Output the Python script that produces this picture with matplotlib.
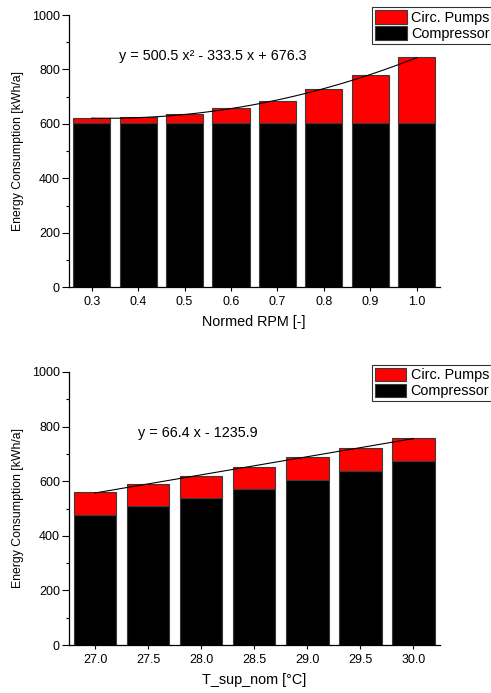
import numpy as np
import matplotlib
matplotlib.use("Agg")
import matplotlib.pyplot as plt
from matplotlib.ticker import MultipleLocator
from matplotlib.patches import Patch

plt.rcParams['font.family'] = ['Liberation Sans', 'DejaVu Sans']

# ---- data: top chart ----
rpm = [0.3, 0.4, 0.5, 0.6, 0.7, 0.8, 0.9, 1.0]
rpm_labels = ["0.3", "0.4", "0.5", "0.6", "0.7", "0.8", "0.9", "1.0"]
rpm_compressor = [602, 602, 602, 602, 602, 602, 602, 602]
rpm_total = [620, 624, 637, 657, 686, 727, 780, 847]
rpm_fit_coef = [500.5, -333.5, 676.3]  # y = a x^2 + b x + c
rpm_fit_text = "y = 500.5 x\u00b2 - 333.5 x + 676.3"

# ---- data: bottom chart ----
tsup = [27.0, 27.5, 28.0, 28.5, 29.0, 29.5, 30.0]
tsup_labels = ["27.0", "27.5", "28.0", "28.5", "29.0", "29.5", "30.0"]
tsup_compressor = [478, 508, 539, 570, 604, 637, 673]
tsup_total = [559, 589, 620, 652, 687, 721, 757]
tsup_fit_coef = [66.4, -1235.9]  # y = a x + b
tsup_fit_text = "y = 66.4 x - 1235.9"

RED = "#ff0000"
BLACK = "#000000"
EDGE = "#3a3a3a"

fig = plt.figure(figsize=(4.91, 6.93), dpi=100)
W, H = 491, 693


def make_ax(left, top, right, bottom):
    return fig.add_axes([left / W, 1 - bottom / H, (right - left) / W, (bottom - top) / H])


def style(ax, xvals, xlabels, xlim, xlabel):
    ax.set_ylim(0, 1000)
    ax.set_xlim(*xlim)
    ax.yaxis.set_major_locator(MultipleLocator(200))
    ax.yaxis.set_minor_locator(MultipleLocator(100))
    ax.set_xticks(xvals)
    ax.set_xticklabels(xlabels)
    for s in ['top', 'right']:
        ax.spines[s].set_visible(False)
    for s in ['left', 'bottom']:
        ax.spines[s].set_linewidth(0.9)
    ax.tick_params(axis='y', which='major', length=5, width=0.8, labelsize=9, pad=1.2)
    ax.tick_params(axis='y', which='minor', length=2.5, width=0.8)
    ax.tick_params(axis='x', which='major', length=3, width=0.8, labelsize=9, pad=3.5)
    ax.set_xlabel(xlabel, fontsize=10.4, labelpad=5)
    ax.set_ylabel("Energy Consumption [kWh/a]", fontsize=8.8)
    ax.yaxis.set_label_coords(-0.12, 0.5)


def legend(ax, x, y):
    handles = [Patch(facecolor=RED, edgecolor=EDGE, linewidth=0.8, label="Circ. Pumps"),
               Patch(facecolor=BLACK, edgecolor=EDGE, linewidth=0.8, label="Compressor")]
    leg = fig.legend(handles=handles, loc='upper left', bbox_to_anchor=(x / W, 1 - y / H),
                     bbox_transform=fig.transFigure, fontsize=10.4, frameon=True,
                     fancybox=False, handlelength=2.2, handleheight=1.05,
                     labelspacing=0.1, borderpad=0.2, handletextpad=0.3, borderaxespad=0)
    leg.get_frame().set_edgecolor('black')
    leg.get_frame().set_linewidth(0.8)


# ---- top chart ----
ax1 = make_ax(68.5, 15, 440, 287.3)
pumps1 = np.array(rpm_total) - np.array(rpm_compressor)
ax1.bar(rpm, rpm_compressor, width=0.08, color=BLACK, edgecolor=EDGE, linewidth=0.8, zorder=2)
ax1.bar(rpm, pumps1, bottom=rpm_compressor, width=0.08, color=RED, edgecolor=EDGE, linewidth=0.8, zorder=2)
xf = np.linspace(rpm[0], rpm[-1], 100)
ax1.plot(xf, np.polyval(rpm_fit_coef, xf), color='black', lw=0.8, zorder=3)
ax1.text(0.56, 850, rpm_fit_text, ha='center', va='center', fontsize=10.4)
style(ax1, rpm, rpm_labels, (0.25, 1.05), "Normed RPM [-]")
legend(ax1, 372, 7.3)

# ---- bottom chart ----
ax2 = make_ax(68.5, 372, 440, 645)
pumps2 = np.array(tsup_total) - np.array(tsup_compressor)
ax2.bar(tsup, tsup_compressor, width=0.4, color=BLACK, edgecolor=EDGE, linewidth=0.8, zorder=2)
ax2.bar(tsup, pumps2, bottom=tsup_compressor, width=0.4, color=RED, edgecolor=EDGE, linewidth=0.8, zorder=2)
xf2 = np.linspace(tsup[0], tsup[-1], 100)
ax2.plot(xf2, np.polyval(tsup_fit_coef, xf2), color='black', lw=0.8, zorder=3)
ax2.text(27.97, 778, tsup_fit_text, ha='center', va='center', fontsize=10.4)
style(ax2, tsup, tsup_labels, (26.75, 30.25), "T_sup_nom [\u00b0C]")
legend(ax2, 371.7, 364.7)

fig.savefig("out.png", dpi=100)
